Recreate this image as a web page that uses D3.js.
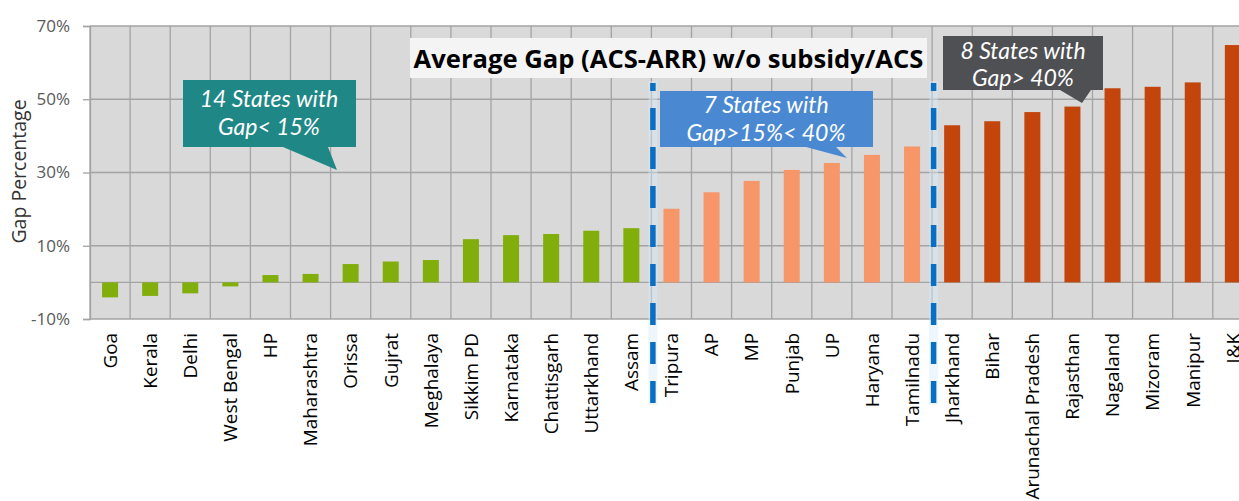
<!DOCTYPE html>
<html>
<head>
<meta charset="utf-8">
<script src="https://cdn.jsdelivr.net/npm/d3@7"></script>
<style>
  html, body { margin: 0; padding: 0; background: #fff; }
  svg { display: block; }
</style>
</head>
<body>
<svg id="chart" width="1239" height="501"></svg>
<script>
// States ordered by gap, lowest to highest
const states = ["Goa", "Kerala", "Delhi", "West Bengal", "HP", "Maharashtra", "Orissa",
  "Gujrat", "Meghalaya", "Sikkim PD", "Karnataka", "Chattisgarh", "Uttarkhand", "Assam",
  "Tripura", "AP", "MP", "Punjab", "UP", "Haryana", "Tamilnadu",
  "Jharkhand", "Bihar", "Arunachal Pradesh", "Rajasthan", "Nagaland", "Mizoram", "Manipur", "J&K"];

// Average gap (ACS-ARR) without subsidy / ACS, in percent
const gapPct = [-4.1, -3.7, -3.0, -1.1, 2.0, 2.3, 5.0,
  5.7, 6.1, 11.8, 12.9, 13.2, 14.1, 14.8,
  20.1, 24.6, 27.7, 30.7, 32.6, 34.8, 37.1,
  42.9, 44.0, 46.5, 48.0, 53.0, 53.4, 54.6, 64.8];

const yTicks = [-10, 10, 30, 50, 70];
const bandLimits = [15, 40];

const title = "Average Gap (ACS-ARR) w/o subsidy/ACS";
const yTitle = "Gap Percentage";

(function draw() {
  const data = states.map((s, i) => ({ state: s, value: gapPct[i] }));

  const svg = d3.select("#chart");
  const W = 1239, H = 501;
  const plotLeft = 90, plotTop = 26, plotBottom = 319;
  const step = 40.1;

  const x = d3.scaleBand()
    .domain(states)
    .range([plotLeft, plotLeft + step * states.length])
    .paddingInner(0).paddingOuter(0);

  const y = d3.scaleLinear().domain([-10, 70]).range([plotBottom, plotTop]);

  const colour = d3.scaleThreshold()
    .domain(bandLimits)
    .range(["#82ae0c", "#f79668", "#c3450b"]);

  const font = "'Open Sans', 'Noto Sans', sans-serif";
  const noteFont = "Lato, 'Open Sans', sans-serif";
  const grid = "#a3a3a3";

  svg.append("rect").attr("width", W).attr("height", H).attr("fill", "#fff");

  // plot area
  svg.append("rect")
    .attr("x", plotLeft).attr("y", plotTop)
    .attr("width", W - plotLeft).attr("height", plotBottom - plotTop)
    .attr("fill", "#d9d9d9");

  // vertical grid at category boundaries
  const bounds = d3.range(states.length + 1).map(i => x.range()[0] + i * x.step());
  svg.append("g").selectAll("line").data(bounds).join("line")
    .attr("x1", d => d).attr("x2", d => d)
    .attr("y1", plotTop).attr("y2", plotBottom)
    .attr("stroke", grid).attr("stroke-width", 1.3);

  // horizontal grid + y axis
  const yAxis = svg.append("g")
    .attr("transform", `translate(${plotLeft},0)`)
    .call(d3.axisLeft(y).tickValues(yTicks).tickSize(7).tickPadding(13)
      .tickFormat(d => d + "%"));
  yAxis.select(".domain").attr("stroke", grid).attr("stroke-width", 1.3);
  yAxis.selectAll(".tick line").attr("stroke", grid).attr("stroke-width", 1.3);
  yAxis.selectAll(".tick text")
    .attr("fill", "#595959")
    .style("font-family", font).style("font-size", "17px");

  svg.append("g").selectAll("line").data(yTicks).join("line")
    .attr("x1", plotLeft).attr("x2", W)
    .attr("y1", d => y(d)).attr("y2", d => y(d))
    .attr("stroke", grid).attr("stroke-width", 1.3);

  // zero line
  svg.append("line")
    .attr("x1", plotLeft).attr("x2", W)
    .attr("y1", y(0)).attr("y2", y(0))
    .attr("stroke", grid).attr("stroke-width", 1.3);

  // bars
  const barW = 16;
  svg.append("g").selectAll("rect").data(data).join("rect")
    .attr("x", d => x(d.state) + x.bandwidth() / 2 - barW / 2)
    .attr("width", barW)
    .attr("y", d => y(Math.max(0, d.value)))
    .attr("height", d => Math.abs(y(d.value) - y(0)))
    .attr("fill", d => colour(d.value));

  // category labels
  const xAxis = svg.append("g")
    .attr("transform", `translate(0,${plotBottom})`)
    .call(d3.axisBottom(x).tickSize(0));
  xAxis.select(".domain").remove();
  xAxis.selectAll(".tick text")
    .attr("transform", "rotate(-90)")
    .attr("x", -14).attr("y", 0).attr("dy", "0.36em")
    .style("text-anchor", "end")
    .attr("fill", "#000")
    .style("font-family", font).style("font-size", "18.9px");

  // y title
  svg.append("text")
    .attr("transform", `translate(26,${(y(50) + y(10)) / 2 - 1}) rotate(-90)`)
    .attr("text-anchor", "middle")
    .attr("fill", "#333")
    .style("font-family", font).style("font-size", "19.5px")
    .text(yTitle);

  // dashed separators between gap bands
  const splitAt = [states.indexOf("Tripura"), states.indexOf("Jharkhand")];
  const sepX = i => x.range()[0] + i * x.step() + 1.5;
  const seps = svg.append("g");
  seps.selectAll("line.halo").data(splitAt).join("line")
    .attr("class", "halo")
    .attr("x1", sepX).attr("x2", sepX)
    .attr("y1", 81).attr("y2", 405)
    .attr("stroke", "#d8eaf8").attr("stroke-opacity", 0.45).attr("stroke-width", 9);
  seps.selectAll("line.dash").data(splitAt).join("line")
    .attr("class", "dash")
    .attr("x1", sepX).attr("x2", sepX)
    .attr("y1", 83).attr("y2", 404)
    .attr("stroke", "#0a6fc2").attr("stroke-width", 5.5)
    .attr("stroke-dasharray", "22 17").attr("stroke-dashoffset", 14);

  // title box
  svg.append("rect")
    .attr("x", 410).attr("y", 38).attr("width", 517).attr("height", 40)
    .attr("fill", "#f4f4f4");
  svg.append("text")
    .attr("x", 668.5).attr("y", 68)
    .attr("text-anchor", "middle")
    .attr("fill", "#000")
    .style("font-family", font).style("font-weight", 700).style("font-size", "25.6px")
    .text(title);

  // callouts
  const callouts = [
    { fill: "#1f8786", box: [183, 80, 356, 147], ptr: [[283, 147], [337, 170], [328, 147]],
      cx: 269, lines: ["14 States with", "Gap< 15%"], base: [107, 135] },
    { fill: "#4a89d2", box: [660, 91, 873, 147], ptr: [[806, 147], [847, 158], [836, 147]],
      cx: 766, lines: ["7 States with", "Gap>15%< 40%"], base: [113, 141] },
    { fill: "#4f5054", box: [943, 36, 1103, 90], ptr: [[1060, 90], [1082, 103], [1091, 90]],
      cx: 1023, lines: ["8 States with", "Gap> 40%"], base: [59, 86] }
  ];

  const cg = svg.append("g").selectAll("g").data(callouts).join("g");
  cg.append("path")
    .attr("d", c => {
      const [x0, y0, x1, y1] = c.box;
      const p = c.ptr;
      return `M${x0},${y0}H${x1}V${y1}H${p[2][0]}L${p[1][0]},${p[1][1]}L${p[0][0]},${p[0][1]}H${x0}Z`;
    })
    .attr("fill", c => c.fill);
  cg.each(function (c) {
    d3.select(this).selectAll("text").data(c.lines).join("text")
      .attr("x", c.cx)
      .attr("y", (d, i) => c.base[i])
      .attr("text-anchor", "middle")
      .attr("fill", "#fff")
      .style("font-family", noteFont).style("font-style", "italic").style("font-size", "23px")
      .text(d => d);
  });
})();
</script>
</body>
</html>
